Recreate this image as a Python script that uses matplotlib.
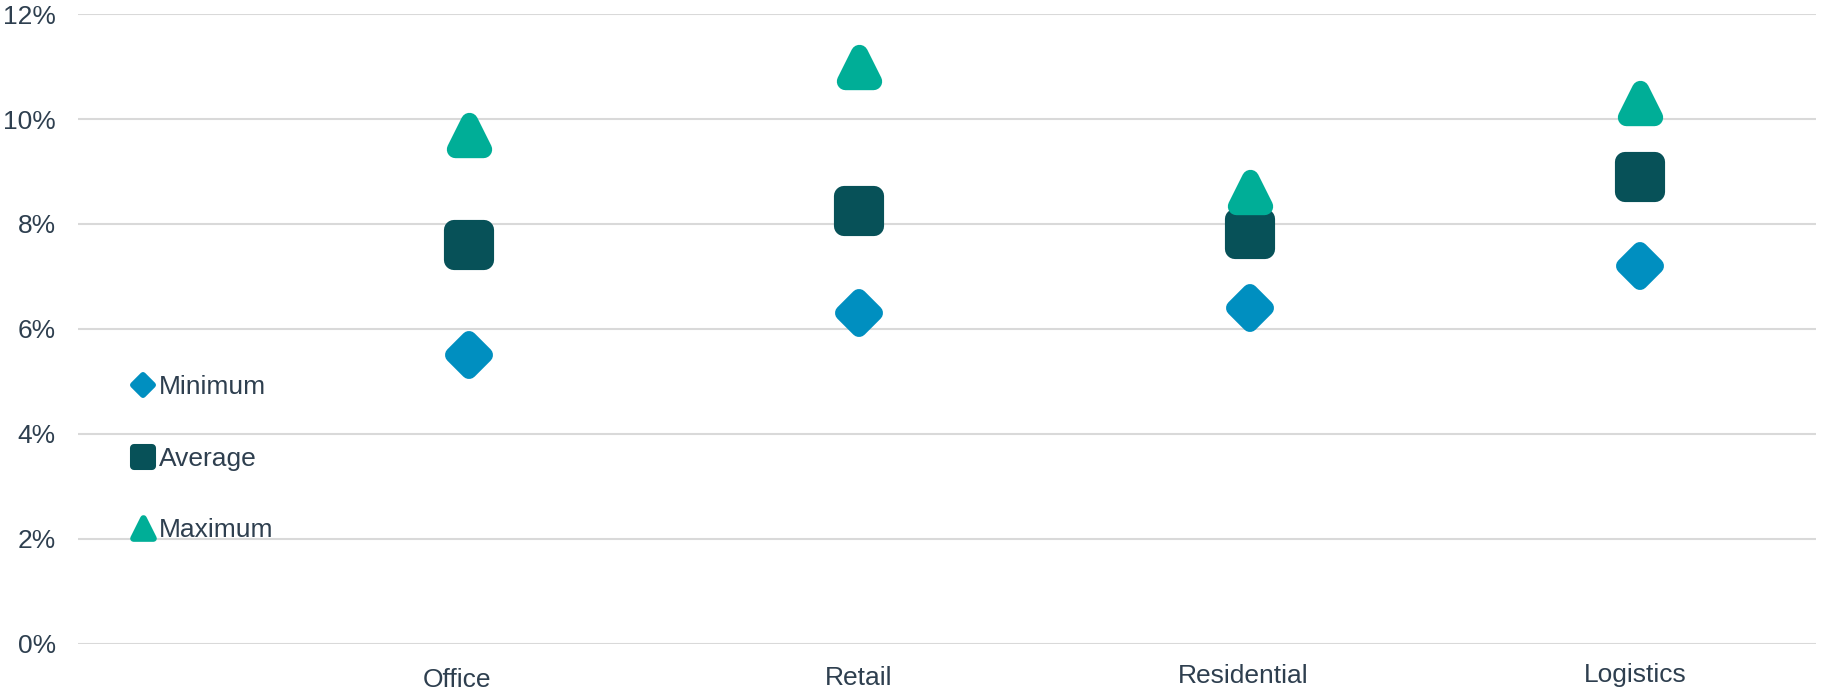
import matplotlib
matplotlib.use('Agg')
import matplotlib.pyplot as plt
import matplotlib.transforms as mtransforms
from matplotlib.lines import Line2D
from matplotlib.markers import MarkerStyle
from matplotlib.ticker import FuncFormatter

# data
sectors = ['Office', 'Retail', 'Residential', 'Logistics']
minimum = [5.5, 6.3, 6.4, 7.2]
average = [7.6, 8.25, 7.8, 8.9]
maximum = [9.7, 11.0, 8.6, 10.3]
yticks = [0, 2, 4, 6, 8, 10, 12]

C_MIN = '#008fc0'
C_AVG = '#075158'
C_MAX = '#00ae97'
TEXT = '#2e3f4f'
GRID = '#d9d9d9'

plt.rcParams['font.family'] = ['Liberation Sans', 'DejaVu Sans']


def rounded(m):
    return MarkerStyle(m, joinstyle='round')


fig = plt.figure(figsize=(18.35, 6.9), dpi=100)
ax = fig.add_axes([0.0425, 0.0667, 0.9471, 0.913])

x = list(range(1, len(sectors) + 1))

# rounded markers: thick edge in the same colour with round joins
ax.plot(x, minimum, linestyle='none', marker=rounded('D'), markersize=16,
        markerfacecolor=C_MIN, markeredgecolor=C_MIN, markeredgewidth=11.5,
        zorder=3)
ax.plot(x, average, linestyle='none', marker=rounded('s'), markersize=21,
        markerfacecolor=C_AVG, markeredgecolor=C_AVG, markeredgewidth=14.5,
        zorder=3)
ax.plot(x, maximum, linestyle='none', marker=rounded('^'), markersize=19.5,
        markerfacecolor=C_MAX, markeredgecolor=C_MAX, markeredgewidth=12.5,
        zorder=4)

ax.set_xlim(0, 4.45)
ax.set_ylim(0, 12)
ax.set_yticks(yticks)
ax.yaxis.set_major_formatter(FuncFormatter(lambda v, p: f'{v:.0f}%'))
ax.grid(axis='y', color=GRID, linewidth=1.5)
ax.set_axisbelow(True)
for s in ax.spines.values():
    s.set_visible(False)

ax.tick_params(axis='y', length=0, pad=16, labelsize=19, labelcolor=TEXT)
ax.tick_params(axis='x', length=0, pad=17.5, labelsize=19, labelcolor=TEXT)
ax.set_xticks(x)
ax.set_xticklabels(sectors)
# labels in the original sit slightly off-centre and step upward
shifts = [(-12, 0), (0, 2), (-6, 4), (-5, 5)]
for lab, (dx, dy) in zip(ax.get_xticklabels(), shifts):
    off = mtransforms.ScaledTranslation(dx / 100, dy / 100, fig.dpi_scale_trans)
    lab.set_transform(lab.get_transform() + off)

# legend with smaller proxy markers
handles = [
    Line2D([], [], linestyle='none', marker=rounded('D'), markersize=10.2,
           markerfacecolor=C_MIN, markeredgecolor=C_MIN, markeredgewidth=4.3),
    Line2D([], [], linestyle='none', marker=rounded('s'), markersize=13,
           markerfacecolor=C_AVG, markeredgecolor=C_AVG, markeredgewidth=5.8),
    Line2D([], [], linestyle='none', marker=rounded('^'), markersize=14.4,
           markerfacecolor=C_MAX, markeredgecolor=C_MAX, markeredgewidth=4.8),
]
leg = ax.legend(handles, ['Minimum', 'Average', 'Maximum'], loc='center left',
                bbox_to_anchor=(0.030, 0.294), frameon=False, fontsize=19,
                handlelength=1.0, handletextpad=0.08, labelspacing=1.8,
                borderpad=0, borderaxespad=0, numpoints=1)
for t in leg.get_texts():
    t.set_color(TEXT)

fig.savefig('out.png', dpi=100, facecolor='white')
